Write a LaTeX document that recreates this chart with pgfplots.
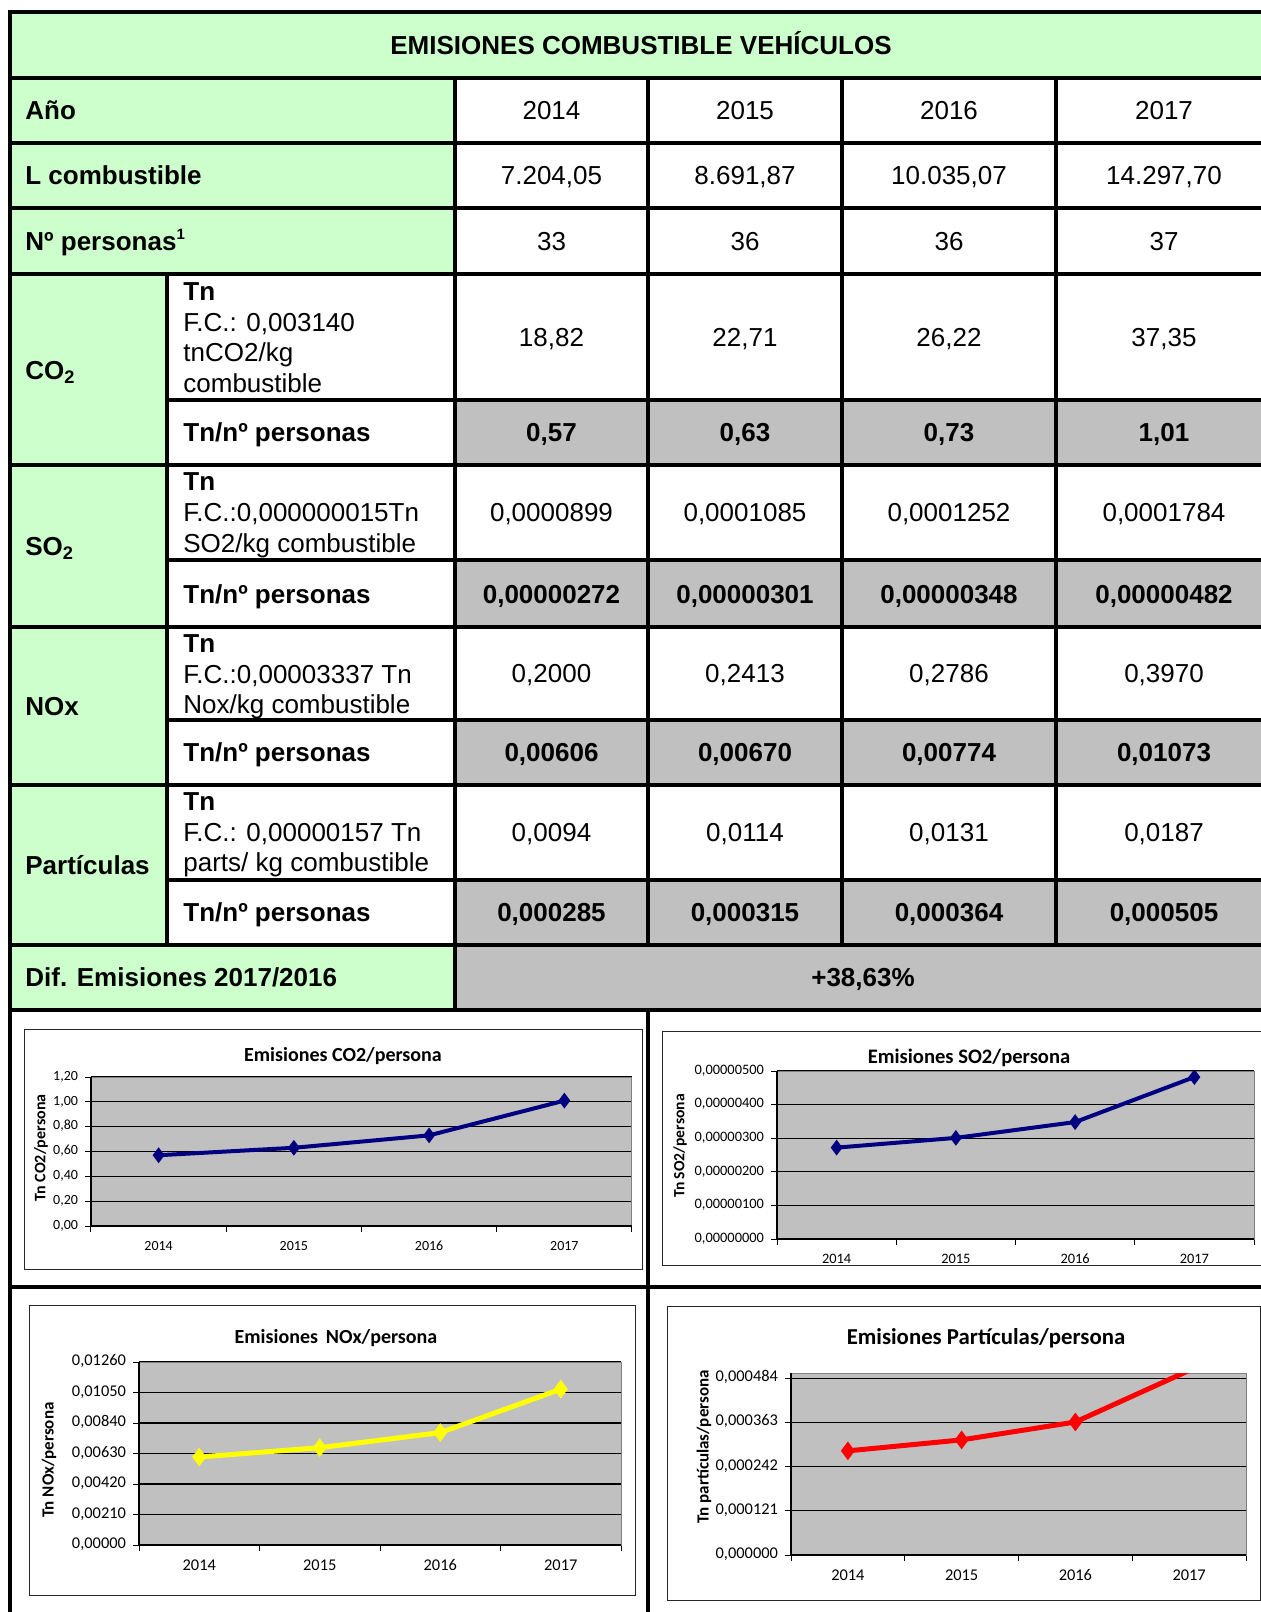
\documentclass[border=0pt]{standalone}
\usepackage{fontspec}
\setmainfont{Liberation Sans}
\newfontfamily\calfont{Carlito}
\usepackage{pgfplots}
\pgfplotsset{compat=1.18}
\definecolor{tgreen}{HTML}{CCFFCC}
\definecolor{tgray}{HTML}{C0C0C0}
\definecolor{navy}{HTML}{000080}
\definecolor{xlyellow}{HTML}{FFFF00}
\newcommand\tfont{\fontsize{13}{15}\selectfont}
\newcommand\vrow[6]{%
  \node[anchor=base,inner sep=0,font=\tfont#2] at (551.5,-#1) {#3};
  \node[anchor=base,inner sep=0,font=\tfont#2] at (745,-#1) {#4};
  \node[anchor=base,inner sep=0,font=\tfont#2] at (949,-#1) {#5};
  \node[anchor=base,inner sep=0,font=\tfont#2] at (1164,-#1) {#6};}
\pgfplotsset{excel/.style={
  scale only axis, anchor=north west,
  xmin=0.5,xmax=4.5, ymin=0,
  axis background/.style={fill=tgray},
  axis line style={draw=black!50, line width=0.5pt},
  xtick={1,2,3,4}, xticklabels={2014,2015,2016,2017},
  major x tick style={draw=none},
  minor xtick={0.5,1.5,2.5,3.5,4.5},
  tick align=outside, tick pos=left,
  major tick length=3pt, minor tick length=3pt,
  every tick/.style={black, line width=0.5pt},
  ymajorgrids, major grid style={black, line width=0.6pt},
  scaled y ticks=false,
  clip marker paths=true,
  typeset ticklabels with strut,
}}
\begin{document}
\begin{tikzpicture}[x=0.5pt,y=0.5pt]
\path[use as bounding box] (0,0) rectangle (1261,-1612);
\begin{scope}
\clip (0,0) rectangle (1261,-1612);
% ---- fills
\fill[tgreen] (10,-12) rectangle (1272,-78);
\fill[tgreen] (10,-78) rectangle (455,-274);
\fill[tgreen] (10,-274) rectangle (167,-945);
\fill[tgreen] (10,-945) rectangle (455,-1010);
\foreach \a/\b in {400/465,560/627,720/785,880/945} {\fill[tgray] (455,-\a) rectangle (1272,-\b);}
\fill[tgray] (455,-945) rectangle (1272,-1010);
% ---- lines
\begin{scope}[line width=1.8pt, line cap=rect]
\foreach \y in {12,78,143,208,274,465,627,785,945,1010} {\draw (10,-\y) -- (1272,-\y);}
\foreach \y in {400,560,720,880} {\draw (167,-\y) -- (1272,-\y);}
\draw (10,-12) -- (10,-1640);
\draw (455,-78) -- (455,-1010);
\draw (167,-274) -- (167,-945);
\foreach \x in {648,842,1056} {\draw (\x,-78) -- (\x,-945);}
\draw (1272,-12) -- (1272,-1010);
\draw (648,-1010) -- (648,-1640);
\draw (10,-1287) -- (1272,-1287);
\end{scope}
% ---- table text
\node[anchor=base,inner sep=0,font=\tfont\bfseries] at (641,-54) {EMISIONES COMBUSTIBLE VEHÍCULOS};
\node[anchor=base west,inner sep=0,font=\tfont\bfseries] at (25,-119) {Año};
\node[anchor=base west,inner sep=0,font=\tfont\bfseries] at (25,-184) {L combustible};
\node[anchor=base west,inner sep=0,font=\tfont\bfseries] at (25,-250) {Nº personas\raisebox{5.5pt}{\fontsize{7.5}{8}\selectfont 1}};
\node[anchor=base west,inner sep=0,font=\tfont\bfseries] at (25,-379) {CO\textsubscript{2}};
\node[anchor=base west,inner sep=0,font=\tfont\bfseries] at (25,-555) {SO\textsubscript{2}};
\node[anchor=base west,inner sep=0,font=\tfont\bfseries] at (25,-715) {NOx};
\node[anchor=base west,inner sep=0,font=\tfont\bfseries] at (25,-874) {Partículas};
\node[anchor=base west,inner sep=0,font=\tfont\bfseries] at (25,-986) {Dif. Emisiones 2017/2016};
% sub labels
\node[anchor=base west,inner sep=0,font=\tfont\bfseries] at (183,-300) {Tn};
\node[anchor=base west,inner sep=0,font=\tfont] at (183,-331) {F.C.: 0,003140};
\node[anchor=base west,inner sep=0,font=\tfont] at (183,-361) {tnCO2/kg};
\node[anchor=base west,inner sep=0,font=\tfont] at (183,-392) {combustible};
\node[anchor=base west,inner sep=0,font=\tfont\bfseries] at (183,-490) {Tn};
\node[anchor=base west,inner sep=0,font=\tfont] at (183,-521) {F.C.:0,000000015Tn};
\node[anchor=base west,inner sep=0,font=\tfont] at (183,-552) {SO2/kg combustible};
\node[anchor=base west,inner sep=0,font=\tfont\bfseries] at (183,-652) {Tn};
\node[anchor=base west,inner sep=0,font=\tfont] at (183,-683) {F.C.:0,00003337 Tn};
\node[anchor=base west,inner sep=0,font=\tfont] at (183,-713) {Nox/kg combustible};
\node[anchor=base west,inner sep=0,font=\tfont\bfseries] at (183,-810) {Tn};
\node[anchor=base west,inner sep=0,font=\tfont] at (183,-841) {F.C.: 0,00000157 Tn};
\node[anchor=base west,inner sep=0,font=\tfont] at (183,-871) {parts/ kg combustible};
\node[anchor=base west,inner sep=0,font=\tfont\bfseries] at (183,-441) {Tn/nº personas};
\node[anchor=base west,inner sep=0,font=\tfont\bfseries] at (183,-603) {Tn/nº personas};
\node[anchor=base west,inner sep=0,font=\tfont\bfseries] at (183,-761) {Tn/nº personas};
\node[anchor=base west,inner sep=0,font=\tfont\bfseries] at (183,-921) {Tn/nº personas};
% values
\vrow{119}{}{2014}{2015}{2016}{2017}
\vrow{184}{}{7.204,05}{8.691,87}{10.035,07}{14.297,70}
\vrow{250}{}{33}{36}{36}{37}
\vrow{346}{}{18,82}{22,71}{26,22}{37,35}
\vrow{441}{\bfseries}{0,57}{0,63}{0,73}{1,01}
\vrow{521}{}{0,0000899}{0,0001085}{0,0001252}{0,0001784}
\vrow{603}{\bfseries}{0,00000272}{0,00000301}{0,00000348}{0,00000482}
\vrow{682}{}{0,2000}{0,2413}{0,2786}{0,3970}
\vrow{761}{\bfseries}{0,00606}{0,00670}{0,00774}{0,01073}
\vrow{841}{}{0,0094}{0,0114}{0,0131}{0,0187}
\vrow{921}{\bfseries}{0,000285}{0,000315}{0,000364}{0,000505}
\node[anchor=base,inner sep=0,font=\tfont\bfseries] at (863,-986) {+38,63\%};
% ---- chart frames
\begin{scope}[draw=black!85, line width=0.5pt]
\draw (24,-1029) rectangle (642,-1269);
\draw (662,-1031) rectangle (1280,-1265);
\draw (29,-1305) rectangle (635,-1595);
\draw (667,-1306) rectangle (1260,-1600);
\end{scope}
% ---- chart 1
\begin{axis}[excel, name=c1, at={(45.5pt,-538.5pt)}, width=270.5pt, height=74.5pt, ymax=1.2,
  ytick={0,0.2,0.4,0.6,0.8,1,1.2},
  yticklabels={{0,00},{0,20},{0,40},{0,60},{0,80},{1,00},{1,20}},
  tick label style={font=\calfont\fontsize{7}{8}\selectfont}]
\addplot[navy, line width=2pt, mark=diamond*, mark size=2.3pt, mark options={solid,fill=navy}]
  coordinates {(1,0.57) (2,0.63) (3,0.73) (4,1.01)};
\end{axis}
\draw[black,line width=0.6pt] (c1.north west) -- (c1.south west) -- (c1.south east);
\node[anchor=base,font=\calfont\bfseries\fontsize{10}{12}\selectfont] at (343,-1061) {Emisiones CO2/persona};
\node[rotate=90,font=\calfont\bfseries\fontsize{8}{9}\selectfont] at (41,-1148) {Tn CO2/persona};
% ---- chart 2
\begin{axis}[excel, name=c2, at={(388.5pt,-535.5pt)}, width=238.5pt, height=84pt, ymax=5e-6,
  ytick={0,1e-6,2e-6,3e-6,4e-6,5e-6},
  yticklabels={{0,00000000},{0,00000100},{0,00000200},{0,00000300},{0,00000400},{0,00000500}},
  tick label style={font=\calfont\fontsize{7.2}{8}\selectfont}]
\addplot[navy, line width=2pt, mark=diamond*, mark size=2.3pt, mark options={solid,fill=navy}]
  coordinates {(1,0.00000272) (2,0.00000301) (3,0.00000348) (4,0.00000482)};
\end{axis}
\draw[black,line width=0.6pt] (c2.north west) -- (c2.south west) -- (c2.south east);
\node[anchor=base,font=\calfont\bfseries\fontsize{10.3}{12}\selectfont] at (969,-1063) {Emisiones SO2/persona};
\node[rotate=90,font=\calfont\bfseries\fontsize{7.8}{9}\selectfont] at (680,-1146) {Tn SO2/persona};
% ---- chart 3
\begin{axis}[excel, name=c3, at={(69.5pt,-681pt)}, width=241pt, height=91.5pt, ymax=0.0126,
  ytick={0,0.0021,0.0042,0.0063,0.0084,0.0105,0.0126},
  yticklabels={{0,00000},{0,00210},{0,00420},{0,00630},{0,00840},{0,01050},{0,01260}},
  tick label style={font=\calfont\fontsize{8.2}{9}\selectfont}]
\addplot[xlyellow, line width=2.5pt, mark=diamond*, mark size=2.6pt, mark options={solid,fill=xlyellow}]
  coordinates {(1,0.00606) (2,0.00670) (3,0.00774) (4,0.01073)};
\end{axis}
\draw[black,line width=0.6pt] (c3.north west) -- (c3.south west) -- (c3.south east);
\node[anchor=base,font=\calfont\bfseries\fontsize{10}{12}\selectfont] at (336,-1343) {Emisiones\, NOx/persona};
\node[rotate=90,font=\calfont\bfseries\fontsize{8.5}{9}\selectfont] at (49,-1460) {Tn NOx/persona};
% ---- chart 4
\begin{axis}[excel, name=c4, at={(395.5pt,-686.5pt)}, width=227.5pt, height=91pt, ymax=0.000498,
  ytick={0,0.000121,0.000242,0.000363,0.000484},
  yticklabels={{0,000000},{0,000121},{0,000242},{0,000363},{0,000484}},
  tick label style={font=\calfont\fontsize{8.2}{9}\selectfont}]
\addplot[red, line width=2.5pt, mark=diamond*, mark size=2.6pt, mark options={solid,fill=red}]
  coordinates {(1,0.000285) (2,0.000315) (3,0.000364) (4,0.000505)};
\end{axis}
\draw[black,line width=0.6pt] (c4.north west) -- (c4.south west) -- (c4.south east);
\node[anchor=base,font=\calfont\bfseries\fontsize{11.4}{13}\selectfont] at (986,-1344) {Emisiones Partículas/persona};
\node[rotate=90,font=\calfont\bfseries\fontsize{8.5}{9}\selectfont] at (704,-1447) {Tn partículas/persona};
\end{scope}
\end{tikzpicture}
\end{document}
